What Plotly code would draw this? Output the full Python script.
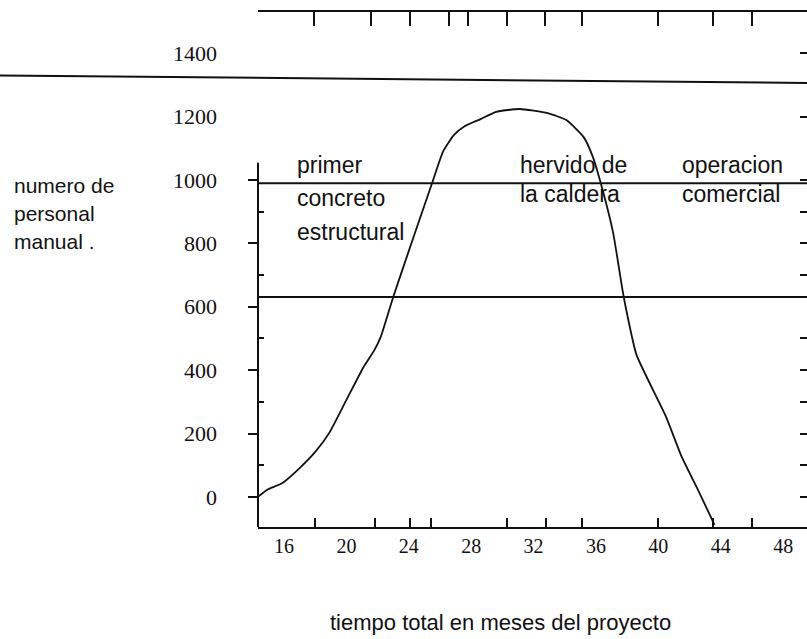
import plotly.graph_objects as go

# Manual workforce over the total project time
months = [14.33, 14.9, 15.9, 17.0, 18.0, 18.9, 20.0, 21.1, 21.8, 22.2, 23.0,
          24.2, 25.5, 26.2, 26.9, 27.6, 28.6, 29.6, 31.1, 32.9, 34.1, 35.2, 35.8,
          36.3, 37.1, 37.7, 37.9, 38.6, 40.5, 41.5, 42.6, 43.6]
personal = [0, 22, 44, 91, 142, 202, 306, 410, 464, 505, 631,
            805, 991, 1090, 1142, 1170, 1192, 1215, 1224, 1211, 1189, 1136, 1073,
            991, 833, 653, 600, 448, 252, 126, 16, -88]

# Axis ticks
x_ticks = [16, 20, 24, 28, 32, 36, 40, 44, 48]
y_ticks = [0, 200, 400, 600, 800, 1000, 1200, 1400]
y_marks_left = [0, 200, 400, 600, 800, 1000]
y_minor_left = [100, 300, 500, 700, 900]
y_marks_right = [0, 100, 200, 300, 400, 500, 700, 800, 900, 1000, 1200, 1400]
x_minor_bottom = [18, 21.8, 24.1, 25.4, 30.3, 32.8, 35.1, 40, 43.5, 46]
x_minor_top = [17.9, 21.6, 24.1, 26.6, 27.8, 30.3, 32.7, 35.1, 40, 43.5, 46]

# Milestone levels
level_upper = 990
level_lower = 631
level_top = (1330, 1306)

X_RANGE = [14.33, 49.53]
Y_RANGE = [-95, 1530]

SERIF = "Liberation Serif, Times New Roman, serif"
SANS = "Liberation Sans, Arial, sans-serif"
INK = "#111111"

fig = go.Figure()

fig.add_trace(go.Scatter(
    x=months, y=personal, mode="lines",
    line=dict(color=INK, width=1.8, shape="spline", smoothing=0.5),
    hoverinfo="skip", showlegend=False,
))
# helper traces so the extra axes are drawn
fig.add_trace(go.Scatter(x=months, y=personal, mode="lines", line=dict(width=0),
                         xaxis="x2", yaxis="y", hoverinfo="skip", showlegend=False))
fig.add_trace(go.Scatter(x=months, y=personal, mode="lines", line=dict(width=0),
                         xaxis="x", yaxis="y2", hoverinfo="skip", showlegend=False))
fig.add_trace(go.Scatter(x=months, y=personal, mode="lines", line=dict(width=0),
                         xaxis="x", yaxis="y3", hoverinfo="skip", showlegend=False))

fig.update_layout(
    width=807, height=639,
    margin=dict(l=258, r=0, t=12, b=112),
    paper_bgcolor="white", plot_bgcolor="white",
    showlegend=False,
    xaxis=dict(
        range=X_RANGE, tickmode="array", tickvals=x_ticks,
        ticks="", showgrid=False, zeroline=False,
        showline=True, linecolor=INK, linewidth=2,
        tickfont=dict(family=SERIF, size=20, color=INK),
        minor=dict(tickmode="array", tickvals=x_minor_bottom, ticks="inside",
                   ticklen=9, tickwidth=1.5, tickcolor=INK, showgrid=False),
    ),
    xaxis2=dict(
        range=X_RANGE, overlaying="x", side="top", anchor="y",
        tickmode="array", tickvals=x_minor_top, ticks="inside",
        ticklen=14, tickwidth=1.5, tickcolor=INK,
        showticklabels=False, showgrid=False, zeroline=False,
        showline=True, linecolor=INK, linewidth=2,
    ),
    yaxis=dict(
        range=Y_RANGE, tickmode="array", tickvals=y_ticks,
        ticks="", showgrid=False, zeroline=False, showline=False,
        ticklabelstandoff=40,
        tickfont=dict(family=SERIF, size=22, color=INK),
        minor=dict(tickmode="array", tickvals=y_minor_left, ticks="inside",
                   ticklen=6, tickwidth=1.5, tickcolor=INK, showgrid=False),
    ),
    yaxis2=dict(
        range=Y_RANGE, overlaying="y", side="right", anchor="x",
        tickmode="array", tickvals=y_marks_right, ticks="inside",
        ticklen=7, tickwidth=2, tickcolor=INK,
        showticklabels=False, showgrid=False, zeroline=False, showline=False,
    ),
    yaxis3=dict(
        range=Y_RANGE, overlaying="y", side="left", anchor="x",
        tickmode="array", tickvals=y_marks_left, ticks="outside",
        ticklen=9, tickwidth=2, tickcolor=INK,
        showticklabels=False, showgrid=False, zeroline=False, showline=False,
    ),
)

# left vertical axis (starts just above the 1000 level)
fig.add_shape(type="line", xref="paper", yref="y", x0=0, x1=0,
              y0=1054, y1=Y_RANGE[0], line=dict(color=INK, width=2))
# milestone levels
fig.add_shape(type="line", xref="paper", yref="y", x0=0, x1=1,
              y0=level_upper, y1=level_upper, line=dict(color=INK, width=2))
fig.add_shape(type="line", xref="paper", yref="y", x0=0, x1=1,
              y0=level_lower, y1=level_lower, line=dict(color=INK, width=2))
fig.add_shape(type="line", xref="paper", yref="y", x0=-258 / 549, x1=1,
              y0=level_top[0], y1=level_top[1], line=dict(color=INK, width=2))


def label(text, x, y, size=23, anchor="left"):
    fig.add_annotation(text=text, x=x, y=y, xref="paper", yref="paper",
                       xanchor=anchor, yanchor="middle", showarrow=False,
                       font=dict(family=SANS, size=size, color=INK))


def px_x(px):
    return (px - 258) / 549


def px_y(py):
    return (527 - py) / 515


label("primer", px_x(295), px_y(165))
label("concreto", px_x(295), px_y(198))
label("estructural", px_x(295), px_y(232))
label("hervido de", px_x(518), px_y(165))
label("la caldera", px_x(518), px_y(194))
label("operacion", px_x(680), px_y(165))
label("comercial", px_x(680), px_y(194))
label("numero de", px_x(12), px_y(185), size=21)
label("personal", px_x(12), px_y(213), size=21)
label("manual .", px_x(12), px_y(241), size=21)
label("tiempo total en meses del proyecto", px_x(500), px_y(622), size=22, anchor="center")

fig.write_html("out.html")
